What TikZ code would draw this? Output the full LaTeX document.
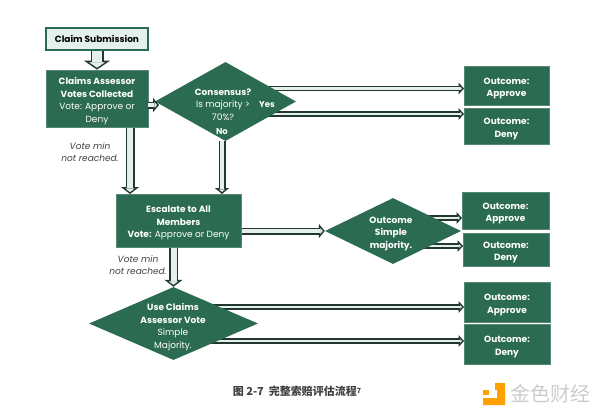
\documentclass[tikz,border=0pt]{standalone}
\usepackage{fontspec}
\setmainfont{Poppins}
\newfontfamily\cjk{Noto Sans CJK SC}
\usetikzlibrary{arrows.meta,shapes.geometric,backgrounds}
\definecolor{boxgreen}{HTML}{2B6B52}
\definecolor{flowline}{HTML}{22382F}
\definecolor{flowfill}{HTML}{E3F0EB}
\newcommand{\topgap}{\rule{0pt}{12pt}}
\tikzset{
  box/.style={fill=boxgreen,draw=boxgreen!80!white,line width=0.8pt,text=white,align=center,inner sep=0pt,font=\fontsize{9}{12.5}\selectfont},
  choice/.style={diamond,fill=boxgreen,inner sep=0pt},
  choicetext/.style={text=white,align=center,inner sep=0pt,font=\fontsize{9}{12.5}\selectfont},
  note/.style={font=\fontsize{9}{12}\selectfont\itshape,text=black!75,align=center},
  flow/.style={draw=flowline,line width=#1+3pt,-{Triangle[length=0.5*#1+4pt,width=2*#1+6pt,line width=1.4pt,fill=flowfill]},
    postaction={draw=flowfill,line width=#1,-,shorten >=0.5*#1+3pt}},
  flow/.default=2.6pt
}
\begin{document}
\begin{tikzpicture}[x=1pt,y=-1pt]
\useasboundingbox (0,0) rectangle (600,415);
% boxes
\node[box,fill=flowfill,draw=boxgreen,line width=1.6pt,text=black,minimum width=102pt,minimum height=22pt] (claim) at (97,39) {\bfseries Claim Submission};
\node[box,minimum width=102pt,minimum height=57pt] (assessor) at (97,98.5) {\topgap\bfseries Claims Assessor\\\bfseries Votes Collected\\Vote: Approve or\\Deny};
\node[box,minimum width=125pt,minimum height=53pt] (escalate) at (178.5,220.5) {\topgap\bfseries Escalate to All\\\bfseries Members\\\textbf{Vote:} Approve or Deny};
% decisions
\node[choice,minimum width=141pt,minimum height=79pt] (consensus) at (225.5,101.5) {};
\node[choice,minimum width=136pt,minimum height=66pt] (majority) at (393,231) {};
\node[choice,minimum width=169pt,minimum height=73pt] (claimvote) at (173.5,323.5) {};
\node[choicetext] (question) at (223,102) {\topgap\bfseries Consensus?\\Is majority >\\70\%?};
\node[choicetext] (majoritytext) at (391,231) {\topgap\bfseries Outcome\\\bfseries Simple\\\bfseries majority.};
\node[choicetext] (votetext) at (173,324.5) {\topgap\bfseries Use Claims\\\bfseries Assessor Vote\\Simple\\Majority.};
\node[choicetext,font=\fontsize{8.5}{10}\bfseries] (yes) at (267,105) {Yes};
\node[choicetext,font=\fontsize{8.5}{10}\bfseries] (no) at (222,132) {No};
% outcomes
\node[box,minimum width=85pt,minimum height=39pt] (approveA) at (506.5,85.5) {\topgap\bfseries Outcome:\\\bfseries Approve};
\node[box,minimum width=85pt,minimum height=36pt] (denyA) at (506.5,126) {\topgap\bfseries Outcome:\\\bfseries Deny};
\node[box,minimum width=87pt,minimum height=37pt] (approveB) at (505.5,210.5) {\topgap\bfseries Outcome:\\\bfseries Approve};
\node[box,minimum width=86pt,minimum height=33pt] (denyB) at (506,249.5) {\topgap\bfseries Outcome:\\\bfseries Deny};
\node[box,minimum width=86pt,minimum height=40pt] (approveC) at (507,302) {\topgap\bfseries Outcome:\\\bfseries Approve};
\node[box,minimum width=86pt,minimum height=40pt] (denyC) at (507,344) {\topgap\bfseries Outcome:\\\bfseries Deny};
% notes
\node[note] (noteA) at (90,152) {Vote min\\not reached.};
\node[note] (noteB) at (138,265) {Vote min\\not reached.};
% arrow ends
\coordinate (yesA) at (464,88.5);
\coordinate (yesB) at (464,114);
\coordinate (simpleA) at (462,218);
\coordinate (simpleB) at (463,246);
\coordinate (useA) at (464,307);
\coordinate (useB) at (464,341);
\coordinate (intoconsensus) at (159,105);
\begin{scope}[on background layer]
\draw[flow] (yesA -| consensus) -- (yesA);
\draw[flow] (yesB -| consensus) -- (yesB);
\draw[flow] (simpleA -| majority) -- (simpleA);
\draw[flow] (simpleB -| majority) -- (simpleB);
\draw[flow] (useA -| claimvote) -- (useA);
\draw[flow] (useB -| claimvote) -- (useB);
\draw[flow=10pt] (claim) -- (assessor);
\draw[flow=6pt] (130,127) -- (130,194);
\draw[flow=4pt] (222,141) -- (222,194);
\draw[flow=6pt] (escalate.south -| claimvote) -- (claimvote.north);
\draw[flow=4pt] (escalate.east |- majority) -- (majority.west);
\end{scope}
\draw[flow=4pt] (assessor.east |- intoconsensus) -- (intoconsensus);
% caption and mark
\node[font=\cjk\bfseries\fontsize{11}{12}\selectfont,text=black!75] (caption) at (297,391) {图 2-7\ \ 完整索赔评估流程\raisebox{2pt}{\fontsize{7}{7}\selectfont 7}};
\node[font=\cjk\fontsize{20}{22}\selectfont,text=black!20] (mark) at (550,394) {金色财经};
\fill[orange!75!yellow] (495,383) -- (505,383) -- (505,405) -- (483,405) -- (483,398) -- (497,398) -- (497,390) -- (495,390) -- cycle;
\fill[orange!75!yellow] (483,390) rectangle (489,395);
\end{tikzpicture}
\end{document}
